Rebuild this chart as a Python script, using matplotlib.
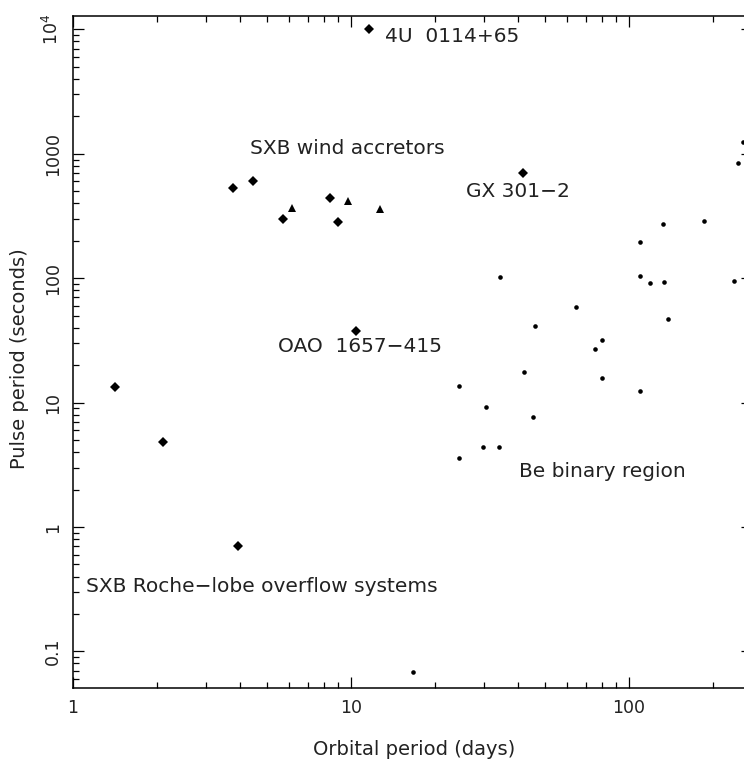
import numpy as np
import matplotlib
matplotlib.use("Agg")
import matplotlib.pyplot as plt

# Supergiant X-ray binaries, wind accretors + Roche-lobe (diamonds)
sxb_orb = [11.6, 3.75, 4.43, 5.69, 8.43, 9.0, 41.5, 10.4, 1.42, 2.11, 3.93]
sxb_pulse = [10000, 528, 604, 297, 439, 283, 705, 37.6, 13.4, 4.8, 0.70]

# triangles
tri_orb = [6.12, 9.73, 12.7]
tri_pulse = [365, 418, 360]

# Be binaries (small dots)
be_orb = [34.4, 64.7, 45.9, 75.2, 79.8, 42.0, 79.8, 109.6, 24.5, 30.6, 45.0,
          29.8, 34.2, 24.4, 132, 186, 109.6, 110, 119, 134, 238, 138, 258,
          247, 16.7]
be_pulse = [103, 58.7, 41.5, 26.9, 31.9, 17.5, 15.7, 12.3, 13.7, 9.27, 7.7,
            4.42, 4.37, 3.6, 271, 290, 197, 104, 91, 92.9, 94.4, 46.7, 1237,
            839, 0.0686]

# labels: (text, x, y) at left edge / vertical centre
etiquetas = [
    ("4U  0114+65", 13.3, 8850),
    ("SXB wind accretors", 4.33, 1113),
    ("GX 301\u22122", 25.9, 502),
    ("OAO  1657\u2212415", 5.45, 28.2),
    ("Be binary region", 40.2, 2.78),
    ("SXB Roche\u2212lobe overflow systems", 1.114, 0.33),
]

yticks = [0.1, 1, 10, 100, 1000, 1e4]
yticklabels = ["0.1", "1", "10", "100", "1000", r"10$^4$"]
xticks = [1, 10, 100]
xticklabels = ["1", "10", "100"]

txt = "#222222"

fig = plt.figure(figsize=(7.44, 7.64), dpi=100)
ax = fig.add_axes([73 / 744, 76 / 764, 679 / 744, 672.3 / 764])

ax.plot(sxb_orb, sxb_pulse, 'D', color='black', ms=5.2, mew=0)
ax.plot(tri_orb, tri_pulse, '^', color='black', ms=6.0, mew=0)
ax.plot(be_orb, be_pulse, 'o', color='black', ms=3.3, mew=0)

for t, x, y in etiquetas:
    ax.text(x, y, t, fontsize=14.5, color=txt, ha='left', va='center')

ax.set_xscale('log')
ax.set_yscale('log')
ax.set_xlim(1, 277)
ax.set_ylim(0.0508, 12890)

ax.set_xticks(xticks)
ax.set_xticklabels(xticklabels)
ax.set_yticks(yticks)
ax.set_yticklabels(yticklabels, rotation=90, va='center')

ax.tick_params(which='both', direction='in', top=True, right=True,
               colors='black', labelcolor=txt, labelsize=12.5, width=0.9)
ax.tick_params(which='major', length=8, pad=8)
ax.tick_params(which='minor', length=4.3)
for s in ax.spines.values():
    s.set_linewidth(1.1)

ax.set_xlabel("Orbital period (days)", fontsize=14, color=txt)
ax.set_ylabel("Pulse period (seconds)", fontsize=14, color=txt)
ax.xaxis.set_label_coords(0.502, -0.077)
ax.yaxis.set_label_coords(-0.065, 0.49)

fig.savefig("out.png", dpi=100)
